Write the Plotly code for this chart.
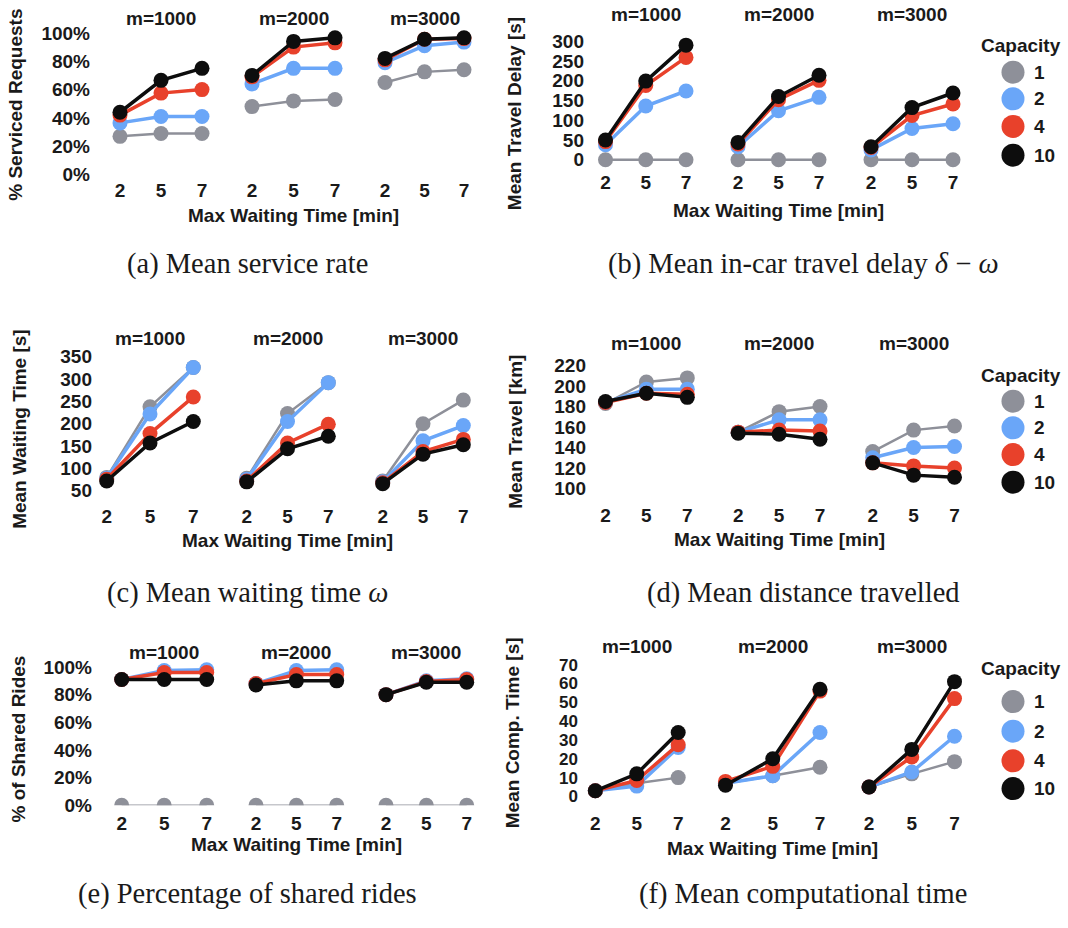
import plotly.graph_objects as go

W, H = 1068, 928

# ---------------- data ----------------
wait_times = ["2", "5", "7"]
fleet_sizes = ["m=1000", "m=2000", "m=3000"]
capacities = ["1", "2", "4", "10"]
cap_colors = ["#8e9099", "#6aa6f8", "#e8412b", "#0d0d0d"]

# values ordered m=1000 (2,5,7) | m=2000 (2,5,7) | m=3000 (2,5,7)
serviced_c1 = [27, 29, 29, 48, 52, 53, 65, 72.5, 74]
serviced_c2 = [36.5, 41, 41, 64, 75, 75, 79, 91, 93.5]
serviced_c4 = [42, 57.5, 60, 69, 90, 93, 81, 95.5, 96]
serviced_c10 = [44, 66.5, 75, 70, 94, 96.5, 82, 95.5, 96.5]

delay_c1 = [0, 0, 0, 0, 0, 0, 0, 0, 0]
delay_c2 = [38, 136, 174, 33, 124, 158, 25, 79, 91]
delay_c4 = [46, 188, 259, 40, 152, 201, 31, 112, 141]
delay_c10 = [50, 199, 290, 44, 160, 214, 33, 132, 169]

waiting_c1 = [80, 238, 326, 78, 223, 292, 72, 200, 253]
waiting_c2 = [78, 222, 326, 76, 205, 292, 70, 162, 196]
waiting_c4 = [76, 178, 260, 72, 157, 199, 68, 138, 165]
waiting_c10 = [72, 157, 205, 70, 144, 172, 66, 132, 153]

travel_c1 = [183, 204, 208, 155, 175, 180, 136, 157, 161]
travel_c2 = [184, 197, 197, 155, 167, 167, 130, 140, 141]
travel_c4 = [184, 193, 192, 155, 157, 156, 125, 122, 120]
travel_c10 = [185, 193, 189, 154, 153, 148, 125, 113, 111]

shared_c1 = [0, 0, 0, 0, 0, 0, 0, 0, 0]
shared_c2 = [91, 97.5, 98, 88, 97.5, 98, 80, 90, 91.5]
shared_c4 = [91, 96, 96, 88, 94.5, 94.5, 80, 89.5, 91]
shared_c10 = [91, 91, 91, 87, 90, 90, 80, 89, 89]

comp_c1 = [3, 7, 10, 7, 11, 15.5, 5, 12, 18.5]
comp_c2 = [3, 5.5, 26, 7, 11, 34, 5, 13, 32]
comp_c4 = [3, 8.5, 27.5, 8, 16, 56, 5, 21, 52]
comp_c10 = [3, 12, 34, 6, 20, 57, 5, 25, 61]

pct_ticks = [0, 20, 40, 60, 80, 100]
delay_ticks = [0, 50, 100, 150, 200, 250, 300]
waiting_ticks = [50, 100, 150, 200, 250, 300, 350]
travel_ticks = [100, 120, 140, 160, 180, 200, 220]
comp_ticks = [0, 10, 20, 30, 40, 50, 60, 70]

# ---------------- layout geometry (pixels) ----------------
panels = [
    dict(series=[serviced_c1, serviced_c2, serviced_c4, serviced_c10], ticks=pct_ticks, suffix="%",
         ytitle="% Serviced Requests", caption="(a) Mean service rate",
         xpx=[(120, 202), (252, 335), (385, 464)], ylo=176.7, yhi=33.3,
         lab_y=193, xt_y=218, gt_y=19, yt=(16, 106), yax_x=90, cap=(247, 267),
         legend=None, tick_size=19, clip_zero=False),
    dict(series=[delay_c1, delay_c2, delay_c4, delay_c10], ticks=delay_ticks, suffix="",
         ytitle="Mean Travel Delay [s]", caption="(b) Mean in-car travel delay <i>δ</i> − <i>ω</i>",
         xpx=[(605.5, 686), (738, 819), (871, 953)], ylo=161.7, yhi=41.7,
         lab_y=185, xt_y=213, gt_y=15, yt=(514.5, 115), yax_x=584, cap=(803, 267),
         legend=dict(title_y=46, ys=[73, 100, 128, 157]), tick_size=19, clip_zero=False),
    dict(series=[waiting_c1, waiting_c2, waiting_c4, waiting_c10], ticks=waiting_ticks, suffix="",
         ytitle="Mean Waiting Time [s]", caption="(c) Mean waiting time <i>ω</i>",
         xpx=[(106.7, 193.3), (246.7, 328.3), (382.7, 463.3)], ylo=496.7, yhi=361,
         lab_y=522.7, xt_y=546.7, gt_y=342.7, yt=(20, 434), yax_x=92, cap=(247, 600),
         legend=None, tick_size=19, clip_zero=False),
    dict(series=[travel_c1, travel_c2, travel_c4, travel_c10], ticks=travel_ticks, suffix="",
         ytitle="Mean Travel [km]", caption="(d) Mean distance travelled",
         xpx=[(605.5, 687.3), (738.2, 820), (872.7, 954.5)], ylo=494.3, yhi=370,
         lab_y=522, xt_y=546, gt_y=348, yt=(516, 437), yax_x=586, cap=(803, 600),
         legend=dict(title_y=380, ys=[406, 433, 460, 488]), tick_size=19, clip_zero=False),
    dict(series=[shared_c1, shared_c2, shared_c4, shared_c10], ticks=pct_ticks, suffix="%",
         ytitle="% of Shared Rides", caption="(e) Percentage of shared rides",
         xpx=[(121.7, 206.7), (256, 336.7), (386, 466.7)], ylo=815, yhi=675,
         lab_y=834.3, xt_y=855, gt_y=660.7, yt=(18.3, 748), yax_x=92, cap=(247, 905),
         legend=None, tick_size=19, clip_zero=True),
    dict(series=[comp_c1, comp_c2, comp_c4, comp_c10], ticks=comp_ticks, suffix="",
         ytitle="Mean Comp. Time [s]", caption="(f) Mean computational time",
         xpx=[(595.3, 678.2), (725.5, 820), (869, 954.5)], ylo=806, yhi=672.7,
         lab_y=833.3, xt_y=858.3, gt_y=654, yt=(512, 742), yax_x=578, cap=(803, 905),
         legend=dict(title_y=677, ys=[710, 740, 770, 798]), tick_size=17, clip_zero=False),
]

FAM = "Liberation Sans, Arial, sans-serif"
BOLD = dict(family=FAM, size=19, color="#1a1a1a", weight="bold")
SERIF = dict(family="Liberation Serif, Times New Roman, serif", size=28.5, color="#1a1a1a")
R = 0.45          # category padding
LAB_OFF = 14      # px from axis line to x tick label centre

fig = go.Figure()
layout = dict(width=W, height=H, margin=dict(l=0, r=0, t=0, b=0),
              paper_bgcolor="white", plot_bgcolor="white", showlegend=False)
annotations = []
shapes = []


def px(x):
    return x / W


def py(y):
    return 1 - y / H


for p, P in enumerate(panels):
    ynum = p + 1
    ticks = P["ticks"]
    vlo, vhi = ticks[0], ticks[-1]
    k = (P["ylo"] - P["yhi"]) / (vhi - vlo)      # px per unit
    y_bot = P["ylo"] if P["clip_zero"] else P["lab_y"] - LAB_OFF
    standoff = int(round(P["lab_y"] - LAB_OFF - y_bot)) if P["clip_zero"] else 0
    y_top = P["yhi"] - 10
    yrange = [vlo - (y_bot - P["ylo"]) / k, vhi + (P["yhi"] - y_top) / k]
    layout[f"yaxis{ynum}"] = dict(
        domain=[py(y_bot), py(y_top)], range=yrange, anchor="free", position=px(P["yax_x"]),
        tickvals=ticks, ticktext=[f"{t}{P['suffix']}" for t in ticks],
        showgrid=False, zeroline=False, showline=False, ticks="",
        tickfont=dict(BOLD, size=P["tick_size"]), fixedrange=True)
    for g in range(3):
        xnum = p * 3 + g + 1
        x0, x2 = P["xpx"][g]
        s = (x2 - x0) / 2
        layout[f"xaxis{xnum}"] = dict(
            domain=[px(x0 - R * s), px(x2 + R * s)], range=[-R, 2 + R], type="category",
            categoryarray=wait_times, anchor=f"y{ynum}", showgrid=False, zeroline=False,
            showline=False, ticks="", tickfont=BOLD, ticklabelstandoff=standoff, fixedrange=True)
        for c in range(4):
            vals = P["series"][c][g * 3:(g + 1) * 3]
            clip = P["clip_zero"] and c == 0
            width = 3.5 if c > 0 else (1.5 if clip else 2.5)
            fig.add_trace(go.Scatter(
                x=wait_times, y=vals, xaxis=f"x{xnum}", yaxis=f"y{ynum}",
                mode="lines+markers", name=capacities[c], cliponaxis=clip,
                line=dict(color=cap_colors[c], width=width),
                marker=dict(color=cap_colors[c], size=15)))
        annotations.append(dict(text=fleet_sizes[g], x=px((x0 + x2) / 2), y=py(P["gt_y"]),
                                xref="paper", yref="paper", showarrow=False, font=BOLD,
                                xanchor="center", yanchor="middle"))
    mid0, mid2 = P["xpx"][1]
    annotations.append(dict(text="Max Waiting Time [min]", x=px((mid0 + mid2) / 2), y=py(P["xt_y"]),
                            xref="paper", yref="paper", showarrow=False, font=BOLD,
                            xanchor="center", yanchor="middle"))
    annotations.append(dict(text=P["ytitle"], x=px(P["yt"][0]), y=py(P["yt"][1]), textangle=-90,
                            xref="paper", yref="paper", showarrow=False, font=BOLD,
                            xanchor="center", yanchor="middle"))
    annotations.append(dict(text=P["caption"], x=px(P["cap"][0]), y=py(P["cap"][1]),
                            xref="paper", yref="paper", showarrow=False, font=SERIF,
                            xanchor="center", yanchor="middle"))
    L = P["legend"]
    if L:
        annotations.append(dict(text="Capacity", x=px(1021), y=py(L["title_y"]),
                                xref="paper", yref="paper", showarrow=False, font=BOLD,
                                xanchor="center", yanchor="middle"))
        for c in range(4):
            yy = L["ys"][c]
            shapes.append(dict(type="circle", xref="paper", yref="paper",
                               xsizemode="pixel", ysizemode="pixel",
                               xanchor=px(1013), yanchor=py(yy),
                               x0=-11.5, x1=11.5, y0=-11.5, y1=11.5,
                               fillcolor=cap_colors[c], line=dict(width=0)))
            annotations.append(dict(text=capacities[c], x=px(1032), y=py(yy),
                                    xref="paper", yref="paper", showarrow=False, font=BOLD,
                                    xanchor="left", yanchor="middle"))

layout["annotations"] = annotations
layout["shapes"] = shapes
fig.update_layout(**layout)
fig.write_html("out.html")
